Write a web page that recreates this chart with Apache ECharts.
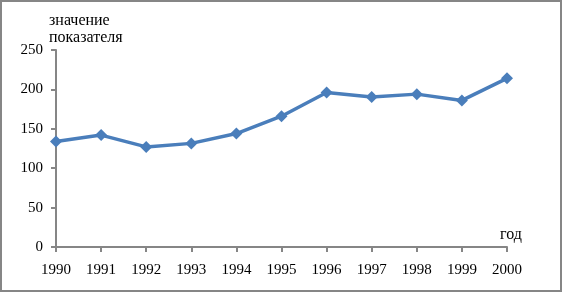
<!DOCTYPE html>
<html><head><meta charset="utf-8">
<script src="https://cdn.jsdelivr.net/npm/echarts@6/dist/echarts.min.js"></script>
<style>html,body{margin:0;padding:0;background:#fff}#c{width:563px;height:293px}</style>
</head><body><div id="c"></div>
<script>
const years = ['1990','1991','1992','1993','1994','1995','1996','1997','1998','1999','2000'];
const values = [134, 142, 127, 131.5, 144, 166, 196, 190.5, 194, 186, 214];
const yTicks = [0, 50, 100, 150, 200, 250];
const yTitle = 'значение\nпоказателя';
const xTitle = 'год';

const chart = echarts.init(document.getElementById('c'), null, {renderer:'canvas'});
const font = 'Liberation Serif';
chart.setOption({
  animation: false,
  backgroundColor: '#fff',
  grid: {left: 56, right: 56, top: 50, bottom: 46},
  xAxis: {
    type: 'category', data: years, boundaryGap: false,
    axisLine: {lineStyle: {color: '#868686', width: 2}},
    axisTick: {show: true, length: 5, lineStyle: {color: '#868686', width: 2}},
    axisLabel: {color: '#000', fontFamily: font, fontSize: 15, margin: 16},
    splitLine: {show: false}
  },
  yAxis: {
    type: 'value', min: yTicks[0], max: yTicks[yTicks.length-1], interval: 50,
    axisLine: {show: true, lineStyle: {color: '#868686', width: 2}},
    axisTick: {show: true, length: 5, lineStyle: {color: '#868686', width: 2}},
    axisLabel: {color: '#000', fontFamily: font, fontSize: 15, margin: 13},
    splitLine: {show: false}
  },
  graphic: [
    {type: 'rect', shape: {x: 1, y: 1, width: 560, height: 290}, style: {fill: 'none', stroke: '#868686', lineWidth: 2}, z: 100},
    {type: 'text', left: 49, top: 12, style: {text: yTitle, font: '16px "Liberation Serif"', fill: '#000', lineHeight: 17}},
    {type: 'text', left: 500, top: 227, style: {text: xTitle, font: '16px "Liberation Serif"', fill: '#000'}}
  ],
  series: [{
    type: 'line', data: values,
    lineStyle: {color: '#4a7ebb', width: 3.5},
    itemStyle: {color: '#4a7ebb'},
    symbol: 'diamond', symbolSize: 12, showSymbol: true
  }]
});
</script></body></html>
